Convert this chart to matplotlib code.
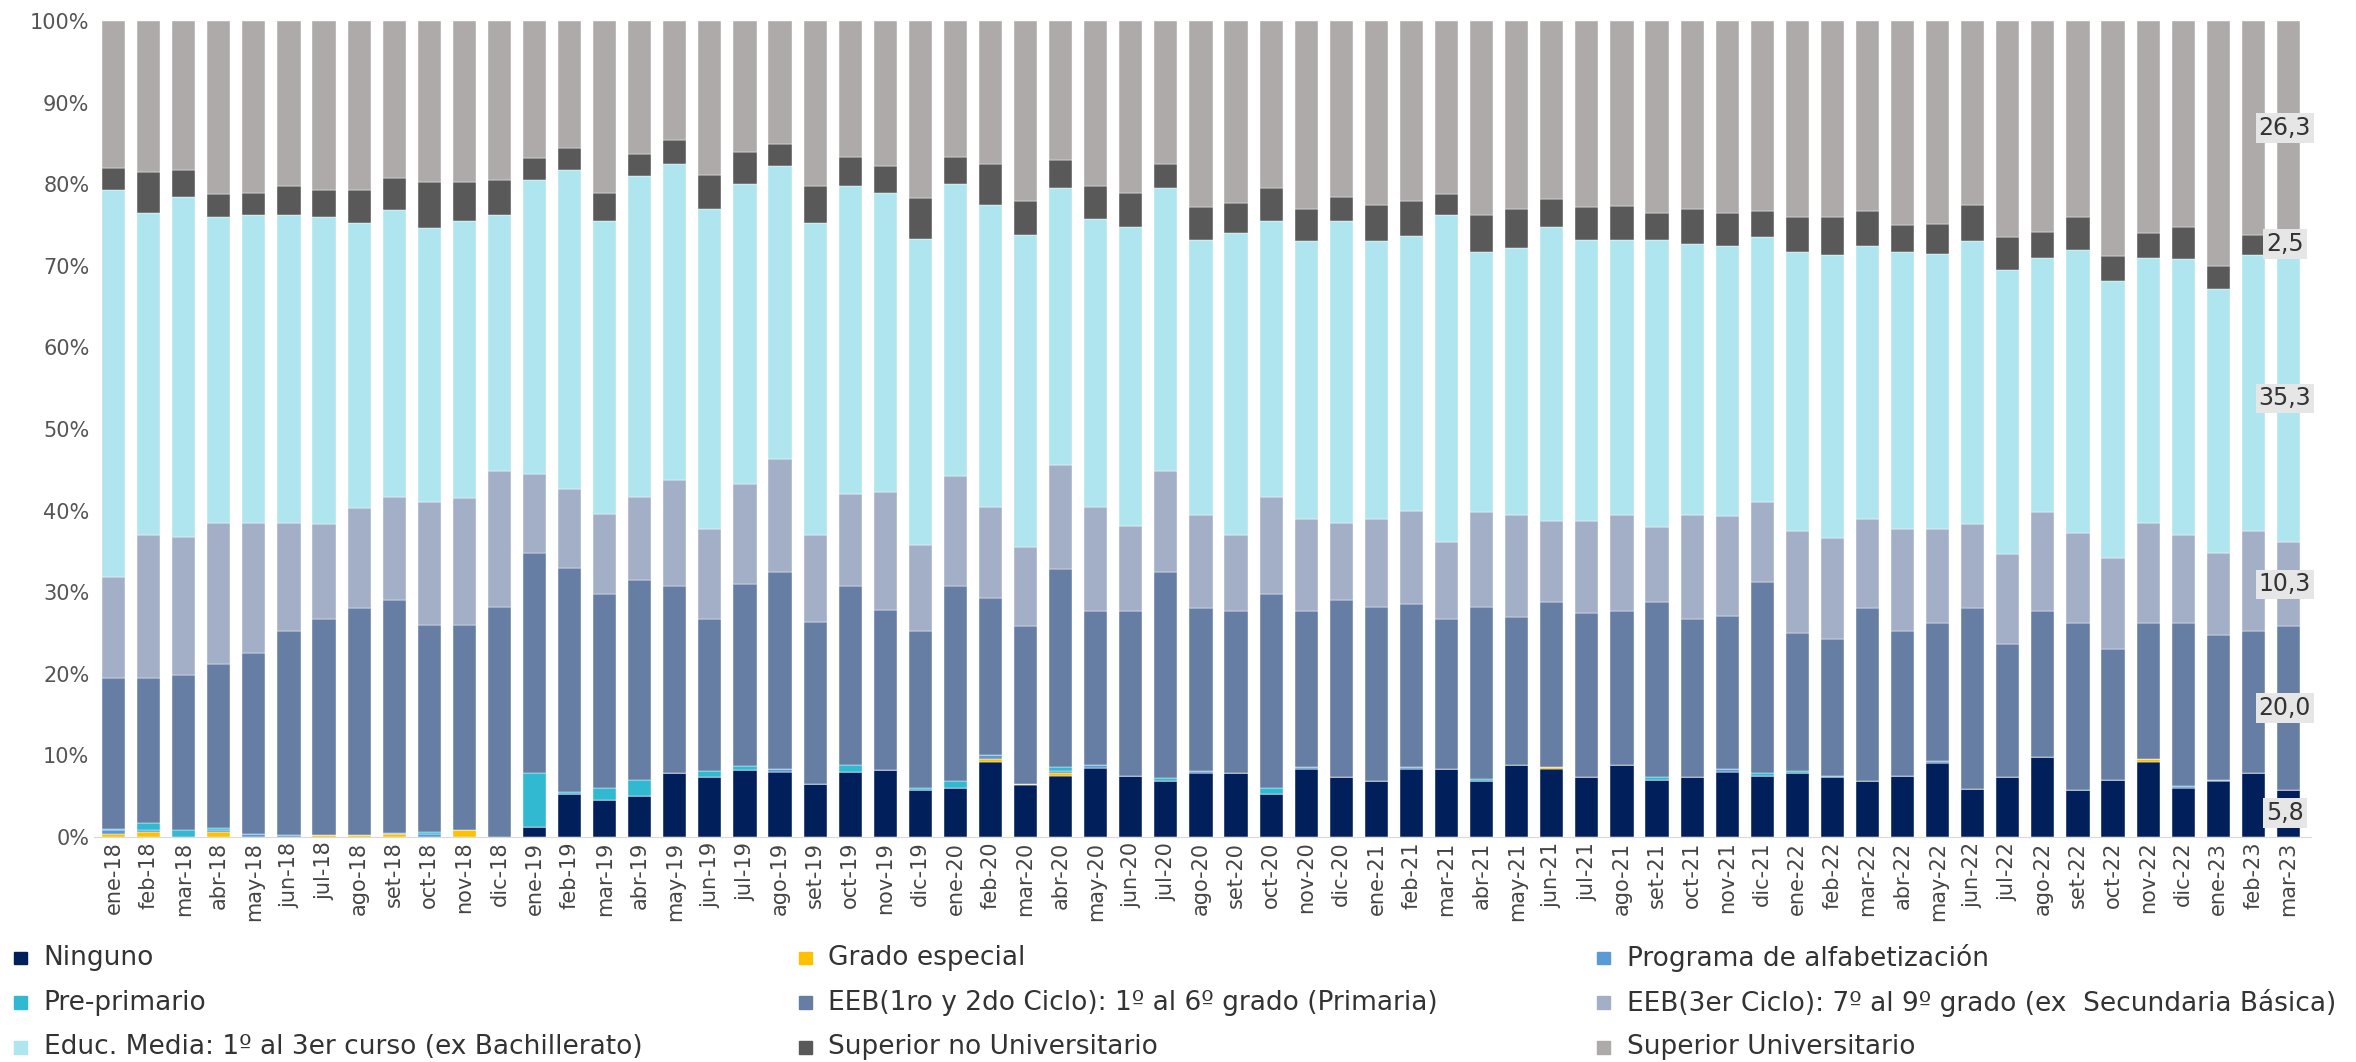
import matplotlib
matplotlib.use("Agg")
import matplotlib.pyplot as plt
import numpy as np
from matplotlib.patches import Rectangle

months = ["ene", "feb", "mar", "abr", "may", "jun", "jul", "ago", "set", "oct", "nov", "dic"]
labels = [f"{m}-{y}" for y in range(18, 24) for m in months][:63]

# small categories (% of total)
ninguno = [0, 0, 0, 0, 0, 0, 0, 0, 0, 0, 0, 0,
           1.2, 5.3, 4.5, 5.0, 7.8, 7.3, 8.2, 8.0, 6.5, 8.0, 8.2, 5.7,
           6.0, 9.2, 6.3, 7.5, 8.5, 7.5, 6.8, 7.8, 7.8, 5.2, 8.3, 7.3,
           6.8, 8.3, 8.3, 6.8, 8.8, 8.3, 7.3, 8.8, 7.0, 7.3, 8.0, 7.5,
           7.8, 7.3, 6.8, 7.5, 9.0, 5.9, 7.3, 9.8, 5.8, 7.0, 9.2, 6.0,
           6.8, 7.8, 5.8]
grado_esp = [0.3, 0.6, 0, 0.6, 0, 0, 0.2, 0.2, 0.3, 0, 0.8, 0,
             0, 0, 0, 0, 0, 0, 0, 0, 0, 0, 0, 0,
             0, 0.3, 0.2, 0.3, 0, 0, 0, 0, 0, 0, 0, 0,
             0, 0, 0, 0, 0, 0.3, 0, 0, 0, 0, 0, 0,
             0, 0, 0, 0, 0, 0, 0, 0, 0, 0, 0.3, 0,
             0, 0, 0]
alfab = [0.5, 0.3, 0, 0.3, 0.3, 0.2, 0, 0, 0.2, 0.3, 0, 0,
         0, 0, 0, 0, 0, 0, 0, 0.3, 0, 0, 0, 0,
         0, 0.5, 0, 0.3, 0.3, 0, 0, 0.3, 0, 0, 0.3, 0,
         0, 0.3, 0, 0, 0, 0, 0, 0, 0, 0, 0.3, 0,
         0, 0, 0, 0, 0.3, 0, 0, 0, 0, 0, 0, 0.2,
         0.2, 0, 0]
pre_prim = [0.2, 0.8, 0.8, 0.2, 0, 0, 0, 0, 0, 0.3, 0, 0,
            6.6, 0.2, 1.5, 2.0, 0, 0.8, 0.5, 0, 0, 0.8, 0, 0.3,
            0.8, 0, 0, 0.5, 0, 0, 0.4, 0, 0, 0.8, 0, 0,
            0, 0, 0, 0.3, 0, 0, 0, 0, 0.3, 0, 0, 0.3,
            0.3, 0.2, 0, 0, 0, 0, 0, 0, 0, 0, 0, 0,
            0, 0, 0]
# cumulative tops of the larger categories (%)
top_eeb12 = [19.5, 19.5, 19.8, 21.2, 22.5, 25.2, 26.7, 28.0, 29.0, 26.0, 26.0, 28.2,
             34.8, 33.0, 29.8, 31.5, 30.8, 26.7, 31.0, 32.5, 26.3, 30.8, 27.8, 25.3,
             30.8, 29.3, 25.8, 32.8, 27.7, 27.7, 32.5, 28.0, 27.7, 29.8, 27.7, 29.0,
             28.2, 28.5, 26.7, 28.2, 27.0, 28.8, 27.5, 27.7, 28.8, 26.7, 27.1, 31.3,
             25.0, 24.3, 28.0, 25.2, 26.2, 28.0, 23.7, 27.7, 26.2, 23.0, 26.2, 26.2,
             24.8, 25.3, 25.8]
top_eeb3 = [31.8, 37.0, 36.8, 38.5, 38.5, 38.5, 38.3, 40.3, 41.7, 41.0, 41.5, 44.8,
            44.5, 42.7, 39.6, 41.7, 43.7, 37.8, 43.3, 46.3, 37.0, 42.0, 42.3, 35.8,
            44.3, 40.5, 35.5, 45.6, 40.5, 38.1, 44.8, 39.5, 37.0, 41.7, 39.0, 38.5,
            39.0, 40.0, 36.2, 39.8, 39.5, 38.7, 38.7, 39.5, 38.0, 39.5, 39.3, 41.0,
            37.5, 36.7, 39.0, 37.7, 37.7, 38.3, 34.7, 39.8, 37.2, 34.2, 38.5, 37.0,
            34.8, 37.5, 36.1]
top_media = [79.3, 76.5, 78.5, 76.0, 76.3, 76.3, 76.0, 75.3, 76.8, 74.7, 75.5, 76.3,
             80.5, 81.7, 75.5, 81.0, 82.5, 77.0, 80.0, 82.2, 75.3, 79.8, 79.0, 73.3,
             80.0, 77.5, 73.8, 79.5, 75.8, 74.8, 79.5, 73.2, 74.0, 75.5, 73.0, 75.5,
             73.0, 73.7, 76.2, 71.7, 72.2, 74.8, 73.2, 73.2, 73.2, 72.7, 72.5, 73.5,
             71.7, 71.4, 72.4, 71.7, 71.5, 73.0, 69.5, 71.0, 72.0, 68.2, 71.0, 70.8,
             67.2, 71.3, 71.4]
top_sup_no_univ = [82.0, 81.5, 81.8, 78.8, 79.0, 79.8, 79.3, 79.3, 80.8, 80.3, 80.3, 80.5,
                   83.2, 84.5, 79.0, 83.7, 85.5, 81.2, 84.0, 85.0, 79.8, 83.3, 82.3, 78.3,
                   83.3, 82.5, 78.0, 83.0, 79.8, 79.0, 82.5, 77.2, 77.7, 79.5, 77.0, 78.5,
                   77.5, 78.0, 78.8, 76.2, 77.0, 78.2, 77.2, 77.4, 76.5, 77.0, 76.5, 76.7,
                   76.0, 76.0, 76.7, 75.0, 75.2, 77.5, 73.5, 74.2, 76.0, 71.2, 74.0, 74.8,
                   70.0, 73.8, 73.9]

small = np.array(ninguno) + np.array(grado_esp) + np.array(alfab) + np.array(pre_prim)
eeb12 = np.array(top_eeb12) - small
eeb3 = np.array(top_eeb3) - np.array(top_eeb12)
media = np.array(top_media) - np.array(top_eeb3)
sup_no_univ = np.array(top_sup_no_univ) - np.array(top_media)
sup_univ = 100 - np.array(top_sup_no_univ)

series = [
    ("Ninguno", ninguno, "#001F5B"),
    ("Grado especial", grado_esp, "#FFC000"),
    ("Programa de alfabetización", alfab, "#5B9BD5"),
    ("Pre-primario", pre_prim, "#31B9D2"),
    ("EEB(1ro y 2do Ciclo): 1º al 6º grado (Primaria)", eeb12, "#667EA3"),
    ("EEB(3er Ciclo): 7º al 9º grado (ex  Secundaria Básica)", eeb3, "#A3AFC7"),
    ("Educ. Media: 1º al 3er curso (ex Bachillerato)", media, "#AEE5EE"),
    ("Superior no Universitario", sup_no_univ, "#595959"),
    ("Superior Universitario", sup_univ, "#AEAAAA"),
]
last_labels = ["5,8", None, None, None, "20,0", "10,3", "35,3", "2,5", "26,3"]

fig = plt.figure(figsize=(23.56, 10.62), dpi=100)
ax = fig.add_axes([0.040, 0.212, 0.941, 0.768])
x = np.arange(len(labels))
bottom = np.zeros(len(labels))
for (name, vals, color), lab in zip(series, last_labels):
    vals = np.asarray(vals, dtype=float)
    ax.bar(x, vals, bottom=bottom, width=0.66, color=color, edgecolor="white", linewidth=0.3)
    if lab:
        ax.text(x[-1] - 0.1, bottom[-1] + vals[-1] / 2, lab, ha="center", va="center",
                fontsize=17, color="#333333",
                bbox=dict(boxstyle="square,pad=0.12", facecolor="#E6E6E6", edgecolor="none"))
    bottom += vals

ax.set_xlim(-0.55, len(labels) - 0.35)
ax.set_ylim(0, 100)
ax.set_yticks(range(0, 101, 10))
ax.set_yticklabels([f"{v}%" for v in range(0, 101, 10)], fontsize=15, color="#555555")
ax.set_xticks(x)
ax.set_xticklabels(labels, rotation=90, fontsize=15, color="#444444")
ax.tick_params(length=0)
for s in ["top", "right", "left"]:
    ax.spines[s].set_visible(False)
ax.spines["bottom"].set_color("#D9D9D9")

# legend, three rows by three columns
col_x = [0.006, 0.339, 0.678]
row_y = [0.098, 0.056, 0.014]
for i, (name, _, color) in enumerate(series):
    r, c = divmod(i, 3)
    fig.patches.append(Rectangle((col_x[c], row_y[r] - 0.006), 0.0055, 0.012,
                                 transform=fig.transFigure, color=color))
    fig.text(col_x[c] + 0.0125, row_y[r], name, fontsize=19, color="#333333", va="center")

fig.savefig("out.png", dpi=100)
